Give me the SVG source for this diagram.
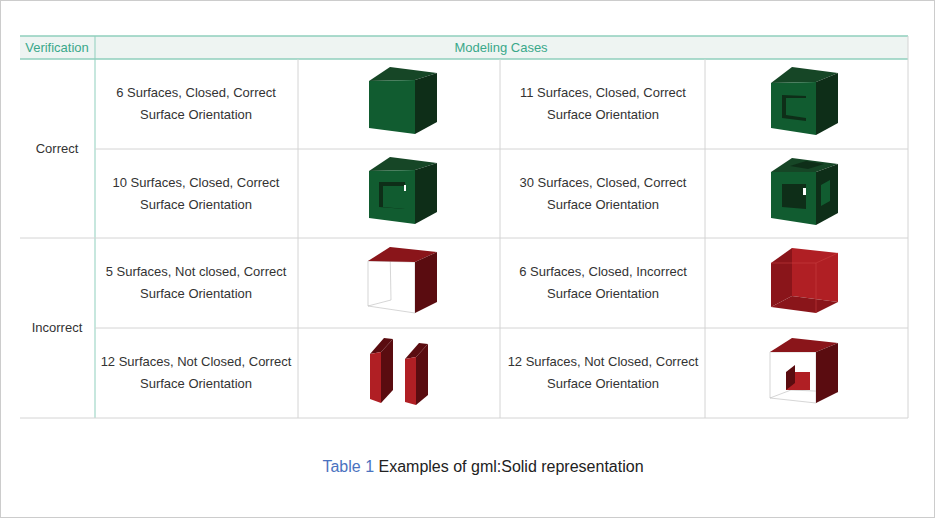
<svg xmlns="http://www.w3.org/2000/svg" width="935" height="518" viewBox="0 0 935 518">
<style>
text{font-family:"Liberation Sans",Arial,sans-serif;font-size:13px;fill:#333;text-anchor:middle}
.h{fill:#3aa88a;font-size:13px}
.g{stroke:#d4d4d4;stroke-width:1;fill:none}
.gf{fill:#115c30}.gt{fill:#164626}.gr{fill:#0e2e18}
.rf{fill:#b01f24}.rt{fill:#8a151a}.rr{fill:#5a0c10}
.wl{fill:#fff;stroke:#bbb;stroke-width:0.6}
</style>
<rect x="0.5" y="0.5" width="934" height="517" fill="#fff" stroke="#ccc"/>
<rect x="20" y="36" width="888" height="23" fill="#eef4f2"/>
<g id="grid">
<line x1="20" y1="36" x2="908" y2="36" stroke="#8fcfbd" stroke-width="1.5"/>
<line x1="20" y1="59" x2="908" y2="59" stroke="#8fcfbd" stroke-width="1.5"/>
<line x1="95" y1="36" x2="95" y2="418" stroke="#8fcfbd" stroke-width="1" />
<line class="g" x1="95" y1="149" x2="908" y2="149"/>
<line class="g" x1="20" y1="238" x2="908" y2="238"/>
<line class="g" x1="95" y1="328" x2="908" y2="328"/>
<line class="g" x1="20" y1="418" x2="908" y2="418"/>
<line class="g" x1="298" y1="59" x2="298" y2="418"/>
<line class="g" x1="500" y1="59" x2="500" y2="418"/>
<line class="g" x1="705" y1="59" x2="705" y2="418"/>
<line class="g" x1="908" y1="36" x2="908" y2="418"/>
</g>
<g id="header"><text class="h" x="57" y="52">Verification</text><text class="h" x="501" y="52">Modeling Cases</text></g>
<g id="labels">
<text x="57" y="153">Correct</text>
<text x="57" y="332">Incorrect</text>
<text x="196" y="97">6 Surfaces, Closed, Correct</text><text x="196" y="119">Surface Orientation</text>
<text x="603" y="97">11 Surfaces, Closed, Correct</text><text x="603" y="119">Surface Orientation</text>
<text x="196" y="187">10 Surfaces, Closed, Correct</text><text x="196" y="209">Surface Orientation</text>
<text x="603" y="187">30 Surfaces, Closed, Correct</text><text x="603" y="209">Surface Orientation</text>
<text x="196" y="276">5 Surfaces, Not closed, Correct</text><text x="196" y="298">Surface Orientation</text>
<text x="603" y="276">6 Surfaces, Closed, Incorrect</text><text x="603" y="298">Surface Orientation</text>
<text x="196" y="366">12 Surfaces, Not Closed, Correct</text><text x="196" y="388">Surface Orientation</text>
<text x="603" y="366">12 Surfaces, Not Closed, Correct</text><text x="603" y="388">Surface Orientation</text>
</g>
<g id="cube1">
<polygon class="gt" points="369,81 390,67 437,73 415,80"/>
<polygon class="gf" points="369,81 415,80 415,134 369,128"/>
<polygon class="gr" points="415,80 437,73 437,122 415,134"/>
</g>
<g id="cube2">
<polygon class="gt" points="771,83 792,67 838,73 816,82"/>
<polygon class="gf" points="771,83 816,82 816,135 771,128"/>
<polygon class="gr" points="816,82 838,73 838,123 816,135"/>
<polygon class="gr" points="782,95 806,96 806,121 782,118"/>
<polygon class="gf" points="786,98 806,98 806,118 786,115"/>
</g>
<g id="cube3">
<polygon class="gt" points="369,171 390,157 437,163 415,170"/>
<polygon class="gf" points="369,171 415,170 415,224 369,218"/>
<polygon class="gr" points="415,170 437,163 437,212 415,224"/>
<polygon class="gr" points="379,182 405,182 405,209 379,207"/>
<polygon class="gf" points="383,186 405,186 405,209 383,207"/>
<rect x="404" y="185" width="2" height="6" fill="#fff"/>
</g>
<g id="cube4">
<polygon class="gt" points="771,172 792,158 838,164 816,172"/>
<polygon class="gf" points="771,172 816,172 816,225 771,218"/>
<polygon class="gr" points="816,172 838,164 838,213 816,225"/>
<polygon class="gr" points="782,184 806,184 806,209 782,207"/>
<polygon class="gr" points="790,166 806,161 824,164 808,169"/>
<polygon class="gf" points="821,185 830,180 830,201 821,206"/>
<rect x="803" y="188" width="3" height="7" fill="#fff"/>
</g>
<g id="cube5">
<polygon class="wl" points="368,261 415,262 415,313 368,306"/>
<line x1="390" y1="247" x2="391" y2="300" stroke="#bbb" stroke-width="0.6"/>
<line x1="368" y1="306" x2="391" y2="300" stroke="#bbb" stroke-width="0.6"/>
<polygon class="rt" points="368,261 390,247 437,252 415,262"/>
<polygon class="rr" points="415,262 437,252 437,302 415,313"/>
</g>
<g id="cube6">
<polygon class="rf" points="792,248 838,253 838,302 792,296"/>
<polygon class="rt" points="771,263 792,248 792,296 771,307"/>
<polygon class="rt" points="771,307 792,296 838,302 816,313"/>
<polyline points="771,263 816,263 838,253 M816,263" fill="none" stroke="#c44" stroke-width="0.5"/>
<line x1="816" y1="263" x2="816" y2="313" stroke="#c44" stroke-width="0.5"/>
</g>
<g id="cube7">
<polygon class="rr" points="370,354 384,338 393,339 381,352"/>
<polygon class="rr" points="381,352 393,339 393,390 381,403"/>
<polygon class="rf" points="370,354 381,352 381,403 370,399"/>
<polygon class="rr" points="405,359 419,343 428,344 416,357"/>
<polygon class="rr" points="416,357 428,344 428,395 416,405"/>
<polygon class="rf" points="405,359 416,357 416,405 405,402"/>
</g>
<g id="cube8">
<polygon class="wl" points="770,352 816,352 816,403 770,398"/>
<line x1="770" y1="398" x2="791" y2="390" stroke="#bbb" stroke-width="0.6"/>
<line x1="791" y1="390" x2="838" y2="392" stroke="#bbb" stroke-width="0.6"/>
<polygon class="rf" points="786,372 810,372 810,390 786,390"/>
<polygon class="rr" points="786,372 795,365 795,383 786,390"/>
<polygon class="rt" points="770,352 792,338 838,343 816,352"/>
<polygon class="rr" points="816,352 838,343 838,392 816,403"/>
</g>
<g id="caption"><text x="483" y="472" style="font-size:16px;fill:#222"><tspan fill="#4a72c0">Table 1</tspan> Examples of gml:Solid representation</text></g>
</svg>
